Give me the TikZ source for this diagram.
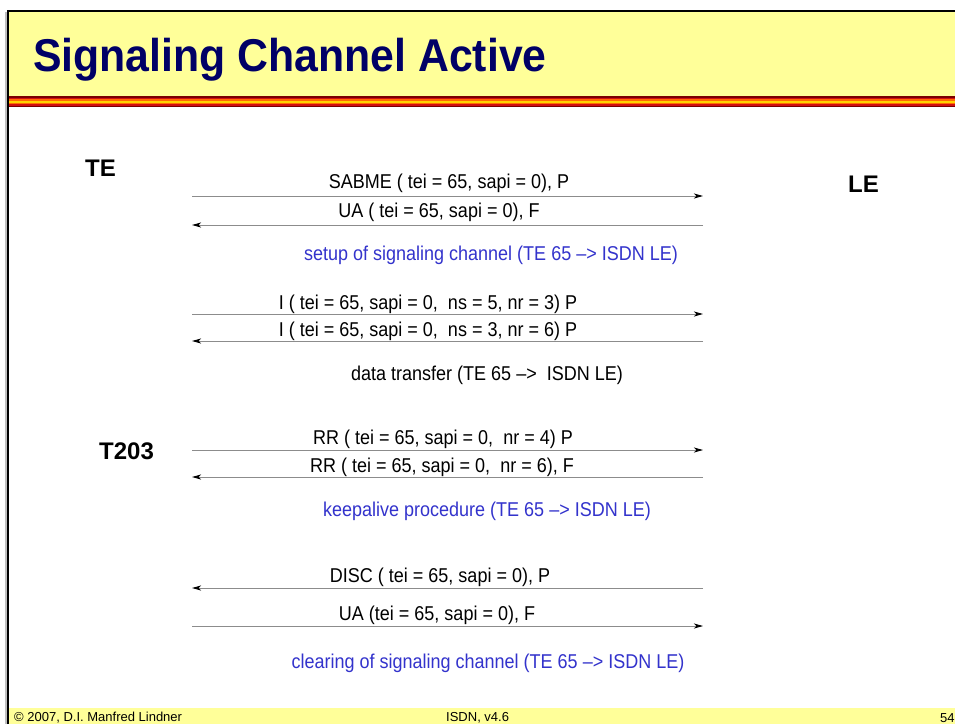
\documentclass[tikz,border=0pt]{standalone}
\usepackage{fontspec}
\setmainfont{Liberation Sans}
\newfontfamily\labfont[FakeStretch=0.9]{Liberation Sans}
\newfontfamily\ttlfont[FakeStretch=0.93]{Liberation Sans}
\usetikzlibrary{arrows.meta}
\definecolor{bandyellow}{HTML}{FFFF99}
\definecolor{titleblue}{HTML}{000066}
\definecolor{noteblue}{HTML}{3333CC}
\definecolor{linegray}{HTML}{8C8C8C}
\definecolor{darkred}{HTML}{7A0000}
\definecolor{midred}{HTML}{D01010}
\definecolor{orng}{HTML}{FF6A00}
\definecolor{gold}{HTML}{FFD200}
\tikzset{
  msg/.style={draw=linegray, line width=0.9pt, -{Stealth[length=9pt,width=5pt,inset=2.5pt,color=black]}},
  lbl/.style={font=\labfont\fontsize{20}{22}\selectfont, anchor=base, inner sep=0pt},
  note/.style={lbl, text=noteblue},
  plain/.style={lbl, text=black},
  ent/.style={font=\bfseries\fontsize{24}{26}\selectfont, anchor=base west, inner sep=0pt},
  foot/.style={font=\fontsize{13}{15}\selectfont, anchor=base west, inner sep=0pt}
}
\begin{document}
\begin{tikzpicture}[x=1pt,y=-1pt]
\useasboundingbox (0,0) rectangle (955,724);
\fill[white] (0,0) rectangle (955,724);
% title band
\fill[bandyellow] (8,11) rectangle (955,97);
% stripe
\fill[darkred] (8,96) rectangle (955,107);
\fill[midred] (8,97.5) rectangle (955,105.5);
\fill[orng] (8,99) rectangle (955,104);
\fill[gold] (8,100.5) rectangle (955,102.5);
% footer band
\fill[bandyellow] (8,708) rectangle (955,724);
% frame
\fill[black!25] (5,12) rectangle (7,724);
\draw[black, line width=2pt] (8,724) -- (8,11) -- (955,11);
% title
\node[font=\ttlfont\bfseries\fontsize{46}{50}\selectfont, text=titleblue, anchor=base west, inner sep=0pt] (title) at (33,71) {Signaling Channel Active};
% entities
\node[ent] (te) at (85,176) {TE};
\node[ent] (le) at (848,192) {LE};
\node[ent] (t203) at (99,459) {T203};
% endpoints
\coordinate (l1) at (192,196); \coordinate (r1) at (703,196);
\coordinate (l2) at (192,225); \coordinate (r2) at (703,225);
\coordinate (l3) at (192,314); \coordinate (r3) at (703,314);
\coordinate (l4) at (192,341); \coordinate (r4) at (703,341);
\coordinate (l5) at (192,450); \coordinate (r5) at (703,450);
\coordinate (l6) at (192,477); \coordinate (r6) at (703,477);
\coordinate (l7) at (192,588); \coordinate (r7) at (703,588);
\coordinate (l8) at (192,626); \coordinate (r8) at (703,626);
\draw[msg] (l1) -- (r1);
\draw[msg] (r2) -- (l2);
\draw[msg] (l3) -- (r3);
\draw[msg] (r4) -- (l4);
\draw[msg] (l5) -- (r5);
\draw[msg] (r6) -- (l6);
\draw[msg] (r7) -- (l7);
\draw[msg] (l8) -- (r8);
% labels
\node[plain] (m1) at (449,188) {SABME ( tei = 65, sapi = 0), P};
\node[plain] (m2) at (439,217) {UA ( tei = 65, sapi = 0), F};
\node[note] (n1) at (491,260) {setup of signaling channel (TE 65 –> ISDN LE)};
\node[plain] (m3) at (428,309) {I ( tei = 65, sapi = 0,\ \ ns = 5, nr = 3) P};
\node[plain] (m4) at (428,336) {I ( tei = 65, sapi = 0,\ \ ns = 3, nr = 6) P};
\node[plain] (n2) at (487,380) {data transfer (TE 65 –>\ \ ISDN LE)};
\node[plain] (m5) at (443,444) {RR ( tei = 65, sapi = 0,\ \ nr = 4) P};
\node[plain] (m6) at (442,472) {RR ( tei = 65, sapi = 0,\ \ nr = 6), F};
\node[note] (n3) at (487,516) {keepalive procedure (TE 65 –> ISDN LE)};
\node[plain] (m7) at (440,582) {DISC ( tei = 65, sapi = 0), P};
\node[plain] (m8) at (437,620) {UA (tei = 65, sapi = 0), F};
\node[note] (n4) at (488,668) {clearing of signaling channel (TE 65 –> ISDN LE)};
% footer
\node[foot] (f1) at (14,721) {© 2007, D.I. Manfred Lindner};
\node[foot] (f2) at (446,721) {ISDN, v4.6};
\node[foot] (f3) at (940,722) {54};
\end{tikzpicture}
\end{document}
